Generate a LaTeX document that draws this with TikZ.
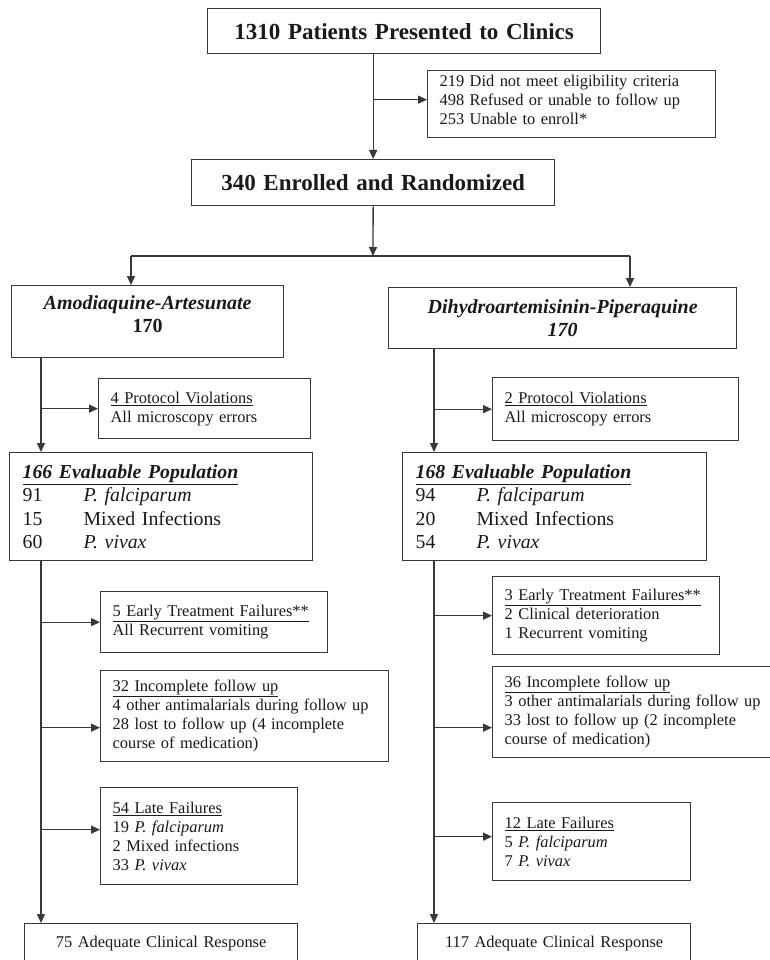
\documentclass[tikz,border=0pt]{standalone}
\usepackage{fontspec}
\setmainfont{Liberation Serif}
\usetikzlibrary{arrows.meta,calc}
\definecolor{linec}{HTML}{383838}
\definecolor{txt}{HTML}{1A1A1A}
\newcommand{\ul}[1]{\underline{#1}}
\newcommand{\cl}[1]{\makebox[61pt][l]{#1}}
\begin{document}
\begin{tikzpicture}[x=1pt,y=-1pt,
  box/.style={draw=linec, line width=1.3pt, anchor=north west, inner ysep=0pt,
    inner xsep=12pt, align=left, text=txt, font=\fontsize{16.4}{19}\selectfont},
  cbox/.style={box, align=center},
  bigf/.style={font=\fontsize{23}{26}\selectfont\bfseries},
  midf/.style={font=\fontsize{20}{23}\selectfont\bfseries},
  evf/.style={font=\fontsize{19.8}{23.5}\selectfont, inner xsep=13pt},
  arr/.style={draw=linec, line width=1.3pt, -{Triangle[length=9pt,width=8pt]}},
  ln/.style={draw=linec, line width=1.3pt}]
\useasboundingbox (0,0) rectangle (770,960);
\fill[white] (0,0) rectangle (770,960);

\node[cbox, bigf, text width=369pt, minimum height=45pt] (top) at (207,8) {1310 Patients Presented to Clinics};
\node[box, text width=264pt, minimum height=67pt] (excl) at (427,70)
  {219 Did not meet eligibility criteria\\498 Refused or unable to follow up\\253 Unable to enroll*\\[-11pt]\mbox{}};
\node[cbox, bigf, text width=339pt, minimum height=46pt] (enr) at (191,159) {340 Enrolled and Randomized};

\node[cbox, midf, text width=248pt, minimum height=72pt] (aa) at (11,285)
  {\textit{Amodiaquine-Artesunate}\\170\\[-8pt]\mbox{}};
\node[cbox, midf, text width=324pt, minimum height=61pt] (dp) at (388,287)
  {\textit{Dihydroartemisinin-Piperaquine}\\\textit{170}};

\node[box, text width=188pt, minimum height=60pt] (pvL) at (98,378)
  {\ul{4 Protocol Violations}\\All microscopy errors};
\node[box, text width=222pt, minimum height=63pt] (pvR) at (492,377)
  {\ul{2 Protocol Violations}\\All microscopy errors};

\node[box, evf, text width=277pt, minimum height=108pt] (evL) at (9,452)
  {\ul{\textbf{\textit{166 Evaluable Population}}}\\\cl{91}\textit{P. falciparum}\\\cl{15}Mixed Infections\\\cl{60}\textit{P. vivax}};
\node[box, evf, text width=278pt, minimum height=108pt] (evR) at (402,452)
  {\ul{\textbf{\textit{168 Evaluable Population}}}\\\cl{94}\textit{P. falciparum}\\\cl{20}Mixed Infections\\\cl{54}\textit{P. vivax}};

\node[box, text width=203pt, minimum height=61pt] (etL) at (100,591)
  {\ul{5 Early Treatment Failures**}\\All Recurrent vomiting};
\node[box, text width=264pt, minimum height=91pt] (incL) at (100,670)
  {\ul{32 Incomplete follow up}\\4 other antimalarials during follow up\\28 lost to follow up (4 incomplete\\course of medication)};
\node[box, text width=173pt, minimum height=97pt] (lfL) at (100,787)
  {\ul{54 Late Failures}\\19 \textit{P. falciparum}\\2 Mixed infections\\33 \textit{P. vivax}};
\node[cbox, text width=249pt, minimum height=40pt] (finL) at (24,923) {75 Adequate Clinical Response};

\node[box, text width=203pt, minimum height=78pt] (etR) at (492,576)
  {\ul{3 Early Treatment Failures**}\\2 Clinical deterioration\\1 Recurrent vomiting};
\node[box, text width=259pt, minimum height=91pt] (incR) at (492,666)
  {\ul{36 Incomplete follow up}\\3 other antimalarials during follow up\\33 lost to follow up (2 incomplete\\course of medication)};
\node[box, text width=174pt, minimum height=78pt] (lfR) at (492,802)
  {\ul{12 Late Failures}\\5 \textit{P. falciparum}\\7 \textit{P. vivax}};
\node[cbox, text width=249pt, minimum height=40pt] (finR) at (417,923) {117 Adequate Clinical Response};

% top connectors
\draw[arr] (top.south -| enr.north) -- (enr.north);
\draw[arr] ([yshift=4.5pt]excl.west -| enr.north) -- ([yshift=4.5pt]excl.west);
\coordinate (split) at (373,256);
\coordinate (sL) at (131,256);
\coordinate (sR) at (630,256);
\draw[arr] (enr.south) -- (split);
\draw[ln] (sL) -- (sR);
\draw[arr] (sL) -- (sL |- aa.north);
\draw[arr] (sR) -- (sR |- dp.north);

% left trunk
\coordinate (tL) at (41,0);
\draw[arr] (aa.south -| tL) -- (evL.north -| tL);
\draw[arr] (pvL.west -| tL) -- (pvL.west);
\draw[arr] (evL.south -| tL) -- (finL.north -| tL);
\draw[arr] (etL.west -| tL) -- (etL.west);
\draw[arr] ([yshift=-11.5pt]incL.west -| tL) -- ([yshift=-11.5pt]incL.west);
\draw[arr] ([yshift=6.5pt]lfL.west -| tL) -- ([yshift=6.5pt]lfL.west);

% right trunk
\coordinate (tR) at (434,0);
\draw[arr] (dp.south -| tR) -- (evR.north -| tR);
\draw[arr] (pvR.west -| tR) -- (pvR.west);
\draw[arr] (evR.south -| tR) -- (finR.north -| tR);
\draw[arr] (etR.west -| tR) -- (etR.west);
\draw[arr] ([yshift=-15.5pt]incR.west -| tR) -- ([yshift=-15.5pt]incR.west);
\draw[arr] ([yshift=5pt]lfR.west -| tR) -- ([yshift=5pt]lfR.west);
\end{tikzpicture}
\end{document}
